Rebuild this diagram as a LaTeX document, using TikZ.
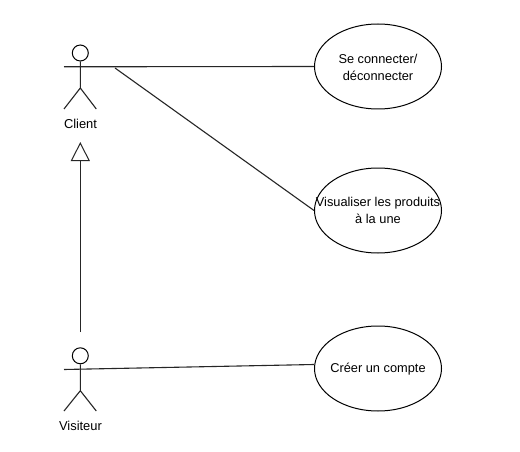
\documentclass[tikz,border=0pt]{standalone}
\usepackage{fontspec}
\setmainfont{Liberation Sans}
\usetikzlibrary{shapes.geometric,arrows.meta}
\tikzset{
  every picture/.style={x=1pt,y=-1pt},
  usecase/.style={draw=black,ellipse,line width=1pt,minimum width=127pt,minimum height=85pt,inner sep=0pt},
  uctext/.style={align=center,inner sep=0pt,font=\fontsize{12.8}{16.4}\selectfont},
  head/.style={draw=black,circle,line width=1pt,minimum size=16pt,inner sep=0pt},
  actorlabel/.style={font=\fontsize{12.9}{15}\selectfont,inner sep=0pt},
  link/.style={line width=1.1pt,draw=black!85},
  inherit/.style={line width=1.1pt,draw=black!85,-{Triangle[open,fill=white,length=19pt,width=19pt,line width=1pt]}}
}
\begin{document}
\begin{tikzpicture}
\useasboundingbox (0,0) rectangle (520,452);
\fill[white] (0,0) rectangle (520,452);
% use cases
\node[usecase] (uc1) at (378,66.5) {};
\node[usecase] (uc2) at (378,210.5) {};
\node[usecase] (uc3) at (378,368.5) {};
\node[uctext] (u1) at (378,67.5) {Se connecter/\\déconnecter};
\node[uctext] (u2) at (378,210.5) {Visualiser les produits\\à la une};
\node[uctext] (u3) at (378,369.5) {Créer un compte};
% actor Client
\node[head] (h1) at (80.3,53) {};
\coordinate (a1l) at (64,66.8);
\coordinate (c1) at (80.3,88);
\coordinate (l1l) at (64,109);
\coordinate (l1r) at (96.3,109);
\draw[link] (h1.south) -- (c1) (l1l) -- (c1) -- (l1r);
\node[actorlabel] (t1) at (80.5,123.8) {Client};
% actor Visiteur
\node[head] (h2) at (80.3,355.8) {};
\coordinate (a2l) at (64,369.5);
\coordinate (c2) at (80.3,390.7);
\coordinate (l2l) at (64,411);
\coordinate (l2r) at (96.3,411);
\draw[link] (h2.south) -- (c2) (l2l) -- (c2) -- (l2r);
\node[actorlabel] (t2) at (80.5,425.6) {Visiteur};
% connectors
\coordinate (s1) at (115,68);
\coordinate (g2) at (80.3,332);
\coordinate (g1) at (80.3,142);
\draw[link] (a1l) -- (uc1.west);
\draw[link] (s1) -- (uc2.west);
\draw[link] (a2l) -- ([yshift=4pt]uc3.west);
\draw[inherit] (g2) -- (g1);
\end{tikzpicture}
\end{document}
